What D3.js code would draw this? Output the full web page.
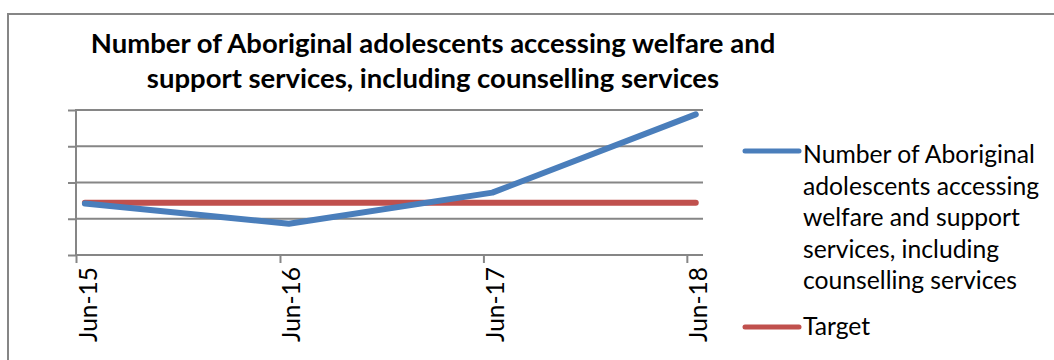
<!DOCTYPE html>
<html>
<head>
<meta charset="utf-8">
<script src="https://cdn.jsdelivr.net/npm/d3@7"></script>
<style>
  body { margin: 0; background: #fff; }
  text { font-family: Lato, "Open Sans", sans-serif; fill: #000; }
</style>
</head>
<body>
<script>

	// data (y axis has no labels, units are a guess)
	var periods = ["2015-06-17", "2016-06-17", "2017-06-17", "2018-06-17"];
	var tickDates = ["2015-06-01", "2016-06-01", "2017-06-01", "2018-06-01"];
	var tickLabels = ["Jun-15", "Jun-16", "Jun-17", "Jun-18"];
	var accessing = [71, 43, 86, 194];
	var target = [72, 72, 72, 72];
	var yTicks = [0, 50, 100, 150, 200];

	var titleLines = ["Number of Aboriginal adolescents accessing welfare and",
	                  "support services, including counselling services"];
	var legendLines = ["Number of Aboriginal", "adolescents accessing",
	                   "welfare and support", "services, including", "counselling services"];

	var width = 1054,
	    height = 360;

	var parse = d3.timeParse("%Y-%m-%d");

	var svg = d3.select("body")
	    .append("svg")
	    .attr("width", width)
	    .attr("height", height);

	// chart frame, runs off the right and bottom edges
	svg.append("rect")
	    .attr("x", 8)
	    .attr("y", 14)
	    .attr("width", 1100)
	    .attr("height", 400)
	    .attr("fill", "none")
	    .attr("stroke", "#868686")
	    .attr("stroke-width", 2);

	// scales
	var x = d3.scaleTime()
	    .domain([parse("2015-06-01"), parse("2018-06-30")])
	    .range([76, 703]);

	var y = d3.scaleLinear()
	    .domain([0, 200])
	    .range([255, 110]);

	// make a text fit a width
	function fitText(sel, targetWidth, startSize) {
		sel.attr("font-size", startSize);
		var w = sel.node().getComputedTextLength();
		sel.attr("font-size", startSize * targetWidth / w);
	}

	// title
	var title = svg.append("g");
	var t1 = title.append("text")
	    .attr("x", 433).attr("y", 53)
	    .attr("text-anchor", "middle")
	    .attr("font-weight", "bold")
	    .text(titleLines[0]);
	fitText(t1, 685, 24);
	title.append("text")
	    .attr("x", 433).attr("y", 88)
	    .attr("text-anchor", "middle")
	    .attr("font-weight", "bold")
	    .attr("font-size", t1.attr("font-size"))
	    .text(titleLines[1]);

	// gridlines + y ticks (no labels)
	var yAxis = svg.append("g")
	    .attr("transform", "translate(76,0)")
	    .call(d3.axisLeft(y).tickValues(yTicks).tickSize(8).tickFormat(""));
	yAxis.select(".domain").remove();
	yAxis.selectAll(".tick line").attr("stroke", "#868686").attr("stroke-width", 2);

	svg.append("g")
	    .selectAll("line")
	    .data(yTicks)
	    .enter()
	    .append("line")
	    .attr("x1", 76)
	    .attr("x2", 703)
	    .attr("y1", function(d){ return y(d); })
	    .attr("y2", function(d){ return y(d); })
	    .attr("stroke", "#868686")
	    .attr("stroke-width", 2);

	svg.append("line")
	    .attr("x1", 76).attr("x2", 76)
	    .attr("y1", y(200) - 1).attr("y2", y(0) + 1)
	    .attr("stroke", "#868686")
	    .attr("stroke-width", 2);

	// x axis
	var xAxis = svg.append("g")
	    .attr("transform", "translate(0," + y(0) + ")")
	    .call(d3.axisBottom(x)
	        .tickValues(tickDates.map(parse))
	        .tickSize(8)
	        .tickFormat(function(d, i){ return tickLabels[i]; }));
	xAxis.select(".domain").remove();
	xAxis.selectAll(".tick line").attr("stroke", "#868686").attr("stroke-width", 2);
	xAxis.selectAll(".tick text")
	    .attr("font-size", 24.5)
	    .attr("text-anchor", "end")
	    .attr("dy", null)
	    .attr("y", 0)
	    .attr("transform", "translate(20,12) rotate(-90)");

	// lines
	var line = d3.line()
	    .x(function(d, i){ return x(parse(periods[i])); })
	    .y(function(d){ return y(d); });

	svg.append("path")
	    .attr("d", line(target))
	    .attr("fill", "none")
	    .attr("stroke", "#c0504d")
	    .attr("stroke-width", 6)
	    .attr("stroke-linecap", "round");

	svg.append("path")
	    .attr("d", line(accessing))
	    .attr("fill", "none")
	    .attr("stroke", "#4a7ebb")
	    .attr("stroke-width", 6)
	    .attr("stroke-linecap", "round")
	    .attr("stroke-linejoin", "round");

	// legend
	var legend = svg.append("g");
	legend.append("line")
	    .attr("x1", 745).attr("x2", 799)
	    .attr("y1", 151).attr("y2", 151)
	    .attr("stroke", "#4a7ebb")
	    .attr("stroke-width", 5)
	    .attr("stroke-linecap", "round");
	legend.append("line")
	    .attr("x1", 745).attr("x2", 799)
	    .attr("y1", 327).attr("y2", 327)
	    .attr("stroke", "#c0504d")
	    .attr("stroke-width", 5)
	    .attr("stroke-linecap", "round");

	var lg = legend.append("text")
	    .attr("x", 803).attr("y", 163);
	lg.selectAll("tspan")
	    .data(legendLines)
	    .enter()
	    .append("tspan")
	    .attr("x", 803)
	    .attr("dy", function(d, i){ return i === 0 ? 0 : 31.5; })
	    .text(function(d){ return d; });
	lg.attr("font-size", 20);
	var w1 = lg.select("tspan").node().getComputedTextLength();
	var legendSize = 20 * 232 / w1;
	lg.attr("font-size", legendSize);

	legend.append("text")
	    .attr("x", 803).attr("y", 335)
	    .attr("font-size", legendSize)
	    .text("Target");

</script>
</body>
</html>
